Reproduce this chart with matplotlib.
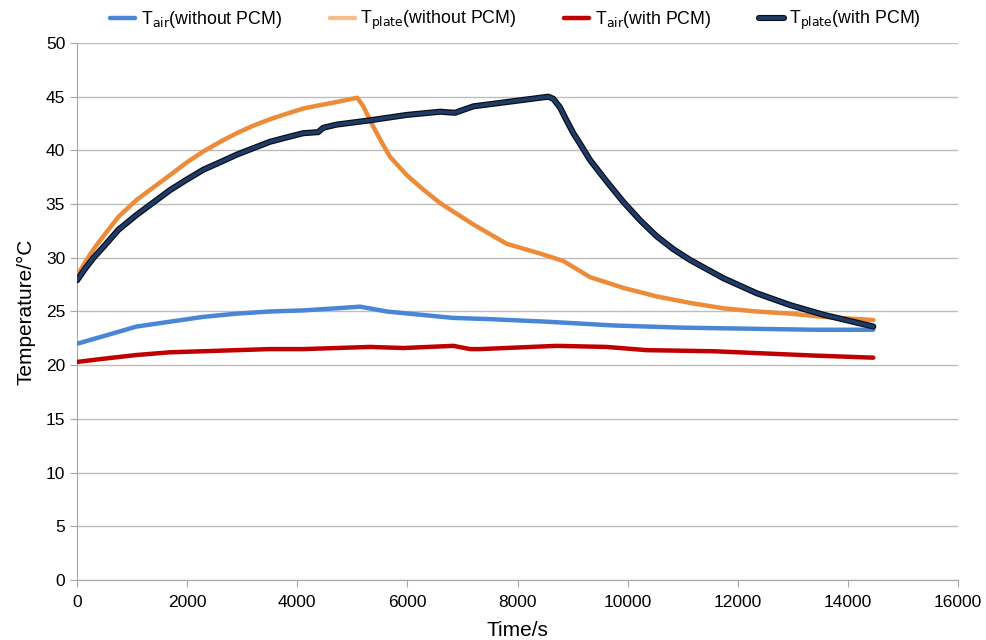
import matplotlib
matplotlib.use('Agg')
import matplotlib.pyplot as plt
import matplotlib.patheffects as pe

plt.rcParams['font.family'] = ['Liberation Sans', 'DejaVu Sans']

# T_air without PCM (blue)
t_air_nopcm = [0, 478, 1084, 1689, 2294, 2900, 3505, 4110, 4716, 5140, 5625, 6230,
               6835, 7441, 8530, 9741, 10952, 12163, 13372, 14462]
T_air_nopcm = [22.0, 22.7, 23.6, 24.05, 24.5, 24.8, 25.0, 25.1, 25.3, 25.45, 25.0, 24.7,
               24.4, 24.3, 24.05, 23.7, 23.5, 23.4, 23.3, 23.3]

# T_plate without PCM (orange)
t_plate_nopcm = [0, 150, 300, 478, 750, 1084, 1400, 1689, 2000, 2294, 2600, 2900, 3200,
                 3505, 3800, 4110, 4400, 4716, 5090, 5200, 5381, 5550, 5685, 5987,
                 6300, 6593, 7198, 7804, 8409, 8832, 9317, 9922, 10528, 11133, 11738,
                 12344, 12950, 13555, 14462]
T_plate_nopcm = [28.3, 29.6, 30.8, 32.0, 33.8, 35.4, 36.6, 37.7, 38.9, 39.9, 40.8, 41.6, 42.3,
                 42.9, 43.4, 43.9, 44.2, 44.5, 44.9, 44.1, 42.2, 40.6, 39.4, 37.7,
                 36.3, 35.1, 33.1, 31.3, 30.4, 29.7, 28.2, 27.2, 26.4, 25.8, 25.3,
                 25.0, 24.8, 24.5, 24.2]

# T_air with PCM (red)
t_air_pcm = [0, 478, 1084, 1689, 2294, 2900, 3505, 4110, 4716, 5321, 5927, 6835,
             7138, 7320, 8712, 9620, 10346, 11557, 12465, 13372, 14462]
T_air_pcm = [20.3, 20.6, 20.95, 21.2, 21.3, 21.4, 21.5, 21.5, 21.6, 21.7, 21.6, 21.8,
             21.5, 21.5, 21.8, 21.7, 21.4, 21.3, 21.1, 20.9, 20.7]

# T_plate with PCM (navy)
t_plate_pcm = [0, 150, 300, 478, 750, 1084, 1400, 1689, 2000, 2294, 2600, 2900, 3200,
               3505, 3800, 4110, 4380, 4470, 4716, 5321, 5987, 6593, 6865, 7198, 7804,
               8409, 8560, 8650, 8772, 8880, 9014, 9150, 9317, 9620, 9922, 10225, 10528,
               10830, 11133, 11738, 12344, 12950, 13555, 14462]
T_plate_pcm = [27.9, 29.0, 30.0, 31.0, 32.6, 34.0, 35.2, 36.3, 37.3, 38.2, 38.9, 39.6, 40.2,
               40.8, 41.2, 41.6, 41.7, 42.1, 42.4, 42.8, 43.3, 43.6, 43.5, 44.1, 44.5,
               44.9, 45.0, 44.8, 44.0, 42.9, 41.6, 40.5, 39.1, 37.1, 35.2, 33.5, 32.0,
               30.8, 29.8, 28.1, 26.7, 25.6, 24.7, 23.6]

fig = plt.figure(figsize=(9.86, 6.4), dpi=100)
ax = fig.add_axes([0.0781, 0.09375, 0.8935, 0.8391])

lw = 3.2
ax.plot(t_air_nopcm, T_air_nopcm, color='#4a86d6', lw=lw, solid_capstyle='round',
        label='T$_{\\mathrm{air}}$(without PCM)', zorder=3)
ax.plot(t_plate_nopcm, T_plate_nopcm, color='#ec8b38', lw=lw, solid_capstyle='round',
        label='T$_{\\mathrm{plate}}$(without PCM)', zorder=3)
ax.plot(t_air_pcm, T_air_pcm, color='#c00000', lw=lw, solid_capstyle='round',
        label='T$_{\\mathrm{air}}$(with PCM)', zorder=3)
ax.plot(t_plate_pcm, T_plate_pcm, color='#1f3c68', lw=2.6, solid_capstyle='round',
        label='T$_{\\mathrm{plate}}$(with PCM)', zorder=4,
        path_effects=[pe.Stroke(linewidth=4.4, foreground='#0a0f1a'), pe.Normal()])

ax.set_xlim(0, 16000)
ax.set_ylim(0, 50)
ax.set_xticks(range(0, 16001, 2000))
ax.set_yticks(range(0, 51, 5))
ax.yaxis.grid(True, color='#bdbdbd', lw=1)
ax.set_axisbelow(True)
for s in ['top', 'right']:
    ax.spines[s].set_visible(False)
for s in ['left', 'bottom']:
    ax.spines[s].set_color('#a6a6a6')
ax.tick_params(axis='both', colors='#a6a6a6', labelcolor='black', labelsize=12.5, length=5)
ax.tick_params(axis='x', pad=6)

ax.set_xlabel('Time/s', fontsize=15, labelpad=8)
ax.set_ylabel('Temperature/°C', fontsize=15, labelpad=7)

handles, labels = ax.get_legend_handles_labels()
leg = fig.legend(handles, labels, loc='center', ncol=4, frameon=False,
                 bbox_to_anchor=(0.523, 0.968), fontsize=12.8, handlelength=1.4,
                 columnspacing=2.7, handletextpad=0.3)
leg.legend_handles[1].set_color('#f7bd8a')

fig.savefig('out.png', dpi=100)
